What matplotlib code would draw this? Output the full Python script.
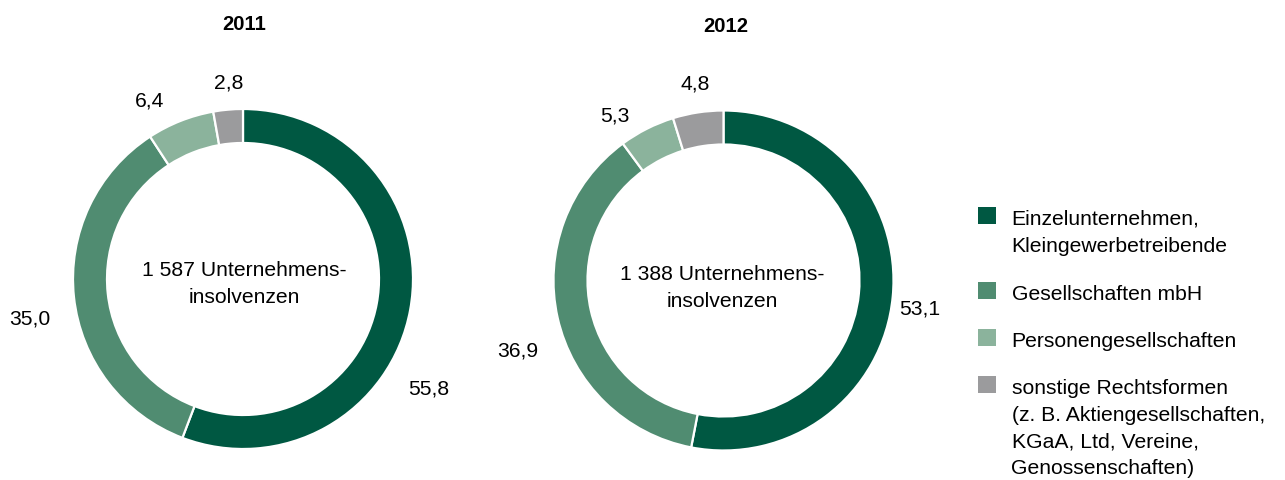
import matplotlib
matplotlib.use("Agg")
import matplotlib.pyplot as plt
from matplotlib.patches import Rectangle

plt.rcParams["font.family"] = ["Liberation Sans", "DejaVu Sans"]

# --- data -------------------------------------------------------------
years = ["2011", "2012"]
totals = ["1 587", "1 388"]
categories = [
    "Einzelunternehmen,\nKleingewerbetreibende",
    "Gesellschaften mbH",
    "Personengesellschaften",
    "sonstige Rechtsformen\n(z. B. Aktiengesellschaften,\nKGaA, Ltd, Vereine,\nGenossenschaften)",
]
shares_2011 = [55.8, 35.0, 6.4, 2.8]
shares_2012 = [53.1, 36.9, 5.3, 4.8]
shares = [shares_2011, shares_2012]

colors = ["#005842", "#508C71", "#8BB39C", "#9B9B9D"]

# --- layout (pixels) --------------------------------------------------
W, H = 1285, 481
DPI = 100
FS = 15.2
FS_TITLE = 14.6
radius_px = 170
centers = [(243, 280), (723.5, 281.5)]
title_pos = [(244, 29.5), (726, 32.5)]
center_text_base = [(244, 276.5, 303.5), (722, 280, 307)]
# value label positions (x centre, baseline) in the order of the shares
label_pos = [
    [(429, 395), (30, 325), (150, 106.5), (228.5, 88.5)],
    [(920, 315), (518, 356.5), (615, 121.5), (695.5, 89.5)],
]

fig = plt.figure(figsize=(W / DPI, H / DPI), dpi=DPI)


def fx(x):
    return x / W


def fy(y):
    return 1 - y / H


for i, (cx, cy) in enumerate(centers):
    ax = fig.add_axes([fx(cx - radius_px), fy(cy + radius_px),
                       2 * radius_px / W, 2 * radius_px / H])
    ax.pie(shares[i], colors=colors, startangle=90, counterclock=False,
           radius=1.0,
           wedgeprops=dict(width=0.2, edgecolor="white", linewidth=1.6))
    ax.set_xlim(-1, 1)
    ax.set_ylim(-1, 1)
    ax.set_aspect("equal")
    ax.axis("off")

    tx, ty = title_pos[i]
    fig.text(fx(tx), fy(ty), years[i], ha="center", va="baseline",
             fontsize=FS_TITLE, fontweight="bold", color="black")

    mx, b1, b2 = center_text_base[i]
    fig.text(fx(mx), fy(b1), f"{totals[i]} Unternehmens-", ha="center",
             va="baseline", fontsize=FS)
    fig.text(fx(mx), fy(b2), "insolvenzen", ha="center", va="baseline",
             fontsize=FS)

    for val, (lx, ly) in zip(shares[i], label_pos[i]):
        fig.text(fx(lx), fy(ly), f"{val:.1f}".replace(".", ","),
                 ha="center", va="baseline", fontsize=FS)

# --- legend -----------------------------------------------------------
sq = 17.5
sq_x = 978.3
text_x = 1011.5
line_gap = 26.6
first_baselines = [225, 300, 347.3, 394]
for col, label, base in zip(colors, categories, first_baselines):
    fig.patches.append(Rectangle((fx(sq_x), fy(base)), sq / W, sq / H,
                                 transform=fig.transFigure,
                                 facecolor=col, edgecolor="none"))
    for k, line in enumerate(label.split("\n")):
        fig.text(fx(text_x), fy(base + k * line_gap), line, ha="left",
                 va="baseline", fontsize=FS)

fig.savefig("out.png", dpi=DPI, facecolor="white")
